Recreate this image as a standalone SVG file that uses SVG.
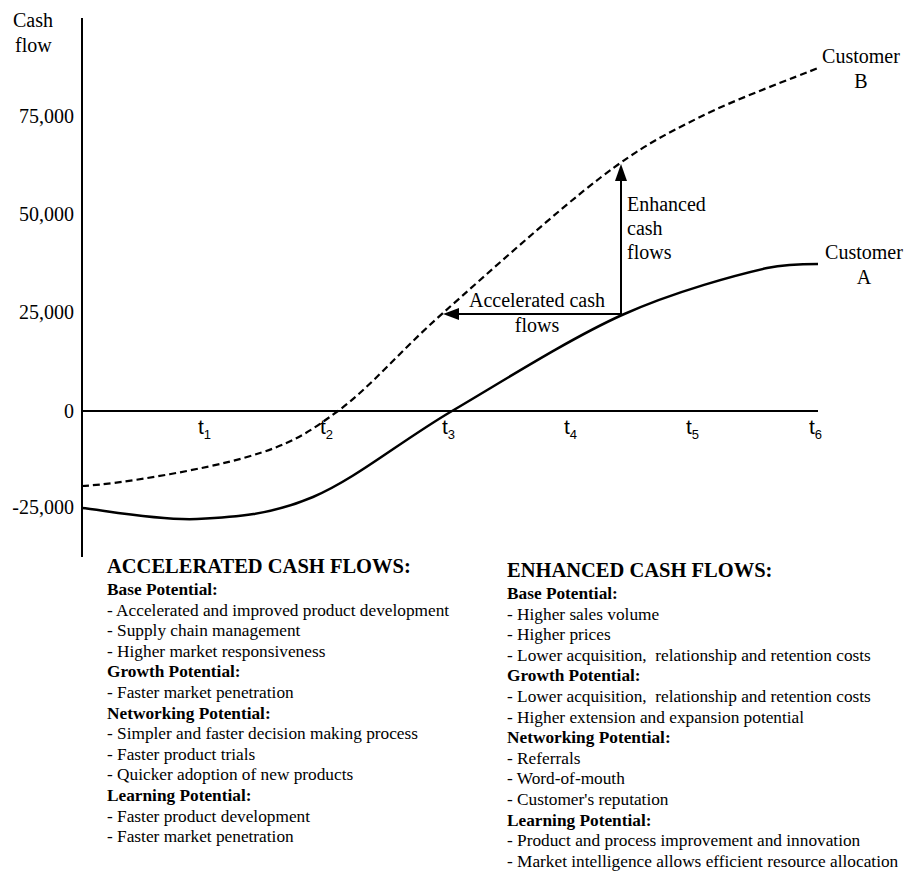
<svg xmlns="http://www.w3.org/2000/svg" width="907" height="871" viewBox="0 0 907 871">
<style>
.t{font-family:"Liberation Sans",Arial,sans-serif;font-family:"Liberation Serif","Times New Roman",serif;font-size:20px;fill:#000}
.tk{font-family:"Liberation Sans",Arial,sans-serif;font-size:21px;fill:#000}
.sub{font-size:13px}
.h{font-family:"Liberation Serif","Times New Roman",serif;font-size:20.5px;font-weight:bold;fill:#000}
.b{font-family:"Liberation Serif","Times New Roman",serif;font-size:17.3px;fill:#000}
.bb{font-family:"Liberation Serif","Times New Roman",serif;font-size:17.3px;font-weight:bold;fill:#000}
.ax{stroke:#000;stroke-width:2;fill:none}
.ca{stroke:#000;stroke-width:2.5;fill:none}
.cb{stroke:#000;stroke-width:2.2;fill:none;stroke-dasharray:7 4}
.ar{stroke:#000;stroke-width:2;fill:none}
</style>
<rect width="907" height="871" fill="#fff"/>
<g id="axes">
<line class="ax" x1="82" y1="18" x2="82" y2="557"/>
<line class="ax" x1="82" y1="411" x2="818" y2="411" stroke-width="1.6"/>
<text class="t" x="13" y="27">Cash</text>
<text class="t" x="15" y="52">flow</text>
<g text-anchor="end">
<text class="t" x="74" y="123">75,000</text>
<text class="t" x="74" y="221">50,000</text>
<text class="t" x="74" y="319">25,000</text>
<text class="t" x="74" y="418">0</text>
<text class="t" x="74" y="514">-25,000</text>
</g>
<text class="tk" x="198" y="434">t<tspan class="sub" dy="5">1</tspan></text>
<text class="tk" x="320" y="434">t<tspan class="sub" dy="5">2</tspan></text>
<text class="tk" x="442" y="434">t<tspan class="sub" dy="5">3</tspan></text>
<text class="tk" x="564" y="434">t<tspan class="sub" dy="5">4</tspan></text>
<text class="tk" x="686" y="434">t<tspan class="sub" dy="5">5</tspan></text>
<text class="tk" x="809" y="434">t<tspan class="sub" dy="5">6</tspan></text>
</g>
<g id="customerA">
<path class="ca" d="M82,508 C101.2,509.8 158.5,520.8 197,519 C235.5,517.2 270.5,515 313,497 C355.5,479 400.5,441.3 452,411 C503.5,380.7 569.5,338.8 622,315 C674.5,291.2 740,274 767,268 C785,264.3 805,264 818,264"/>
<text class="t" x="864" y="259" text-anchor="middle">Customer</text>
<text class="t" x="864" y="284" text-anchor="middle">A</text>
</g>
<g id="customerB">
<path class="cb" d="M82,486 C120,484 204.3,469.5 247,457 C289.7,444.5 305.3,435 338,411 C370.7,387 399.3,351.8 443,313 C486.7,274.2 557.2,210.7 600,178 C642.8,145.3 663.7,135.3 700,117 C736.3,98.7 798.3,76.2 818,68"/>
<text class="t" x="861" y="63" text-anchor="middle">Customer</text>
<text class="t" x="861" y="88" text-anchor="middle">B</text>
</g>
<g id="connectors">
<line class="ar" x1="621" y1="314" x2="456" y2="314"/>
<polygon points="443,314 459,308 459,320" fill="#000"/>
<line class="ar" x1="621" y1="314" x2="621" y2="178"/>
<polygon points="621,164 615,181 627,181" fill="#000"/>
</g>
<g id="accelerated-label">
<text class="t" x="537" y="307" text-anchor="middle">Accelerated cash</text>
<text class="t" x="537" y="332" text-anchor="middle">flows</text>
</g>
<g id="enhanced-label">
<text class="t" x="627" y="211">Enhanced</text>
<text class="t" x="627" y="235">cash</text>
<text class="t" x="627" y="259">flows</text>
</g>
<g id="accelerated-list">
<text class="h" x="107" y="573">ACCELERATED CASH FLOWS:</text>
<text class="bb" x="107" y="595">Base Potential:</text>
<text class="b" x="107" y="615.6">- Accelerated and improved product development</text>
<text class="b" x="107" y="636.2">- Supply chain management</text>
<text class="b" x="107" y="656.8">- Higher market responsiveness</text>
<text class="bb" x="107" y="677.4">Growth Potential:</text>
<text class="b" x="107" y="698">- Faster market penetration</text>
<text class="bb" x="107" y="718.6">Networking Potential:</text>
<text class="b" x="107" y="739.2">- Simpler and faster decision making process</text>
<text class="b" x="107" y="759.8">- Faster product trials</text>
<text class="b" x="107" y="780.4">- Quicker adoption of new products</text>
<text class="bb" x="107" y="801">Learning Potential:</text>
<text class="b" x="107" y="821.6">- Faster product development</text>
<text class="b" x="107" y="842.2">- Faster market penetration</text>
</g>
<g id="enhanced-list">
<text class="h" x="507" y="577">ENHANCED CASH FLOWS:</text>
<text class="bb" x="507" y="599">Base Potential:</text>
<text class="b" x="507" y="619.6">- Higher sales volume</text>
<text class="b" x="507" y="640.2">- Higher prices</text>
<text class="b" x="507" y="660.8" xml:space="preserve">- Lower acquisition,  relationship and retention costs</text>
<text class="bb" x="507" y="681.4">Growth Potential:</text>
<text class="b" x="507" y="702" xml:space="preserve">- Lower acquisition,  relationship and retention costs</text>
<text class="b" x="507" y="722.6">- Higher extension and expansion potential</text>
<text class="bb" x="507" y="743.2">Networking Potential:</text>
<text class="b" x="507" y="763.8">- Referrals</text>
<text class="b" x="507" y="784.4">- Word-of-mouth</text>
<text class="b" x="507" y="805">- Customer's reputation</text>
<text class="bb" x="507" y="825.6">Learning Potential:</text>
<text class="b" x="507" y="846.2">- Product and process improvement and innovation</text>
<text class="b" x="507" y="866.8">- Market intelligence allows efficient resource allocation</text>
</g>
</svg>
